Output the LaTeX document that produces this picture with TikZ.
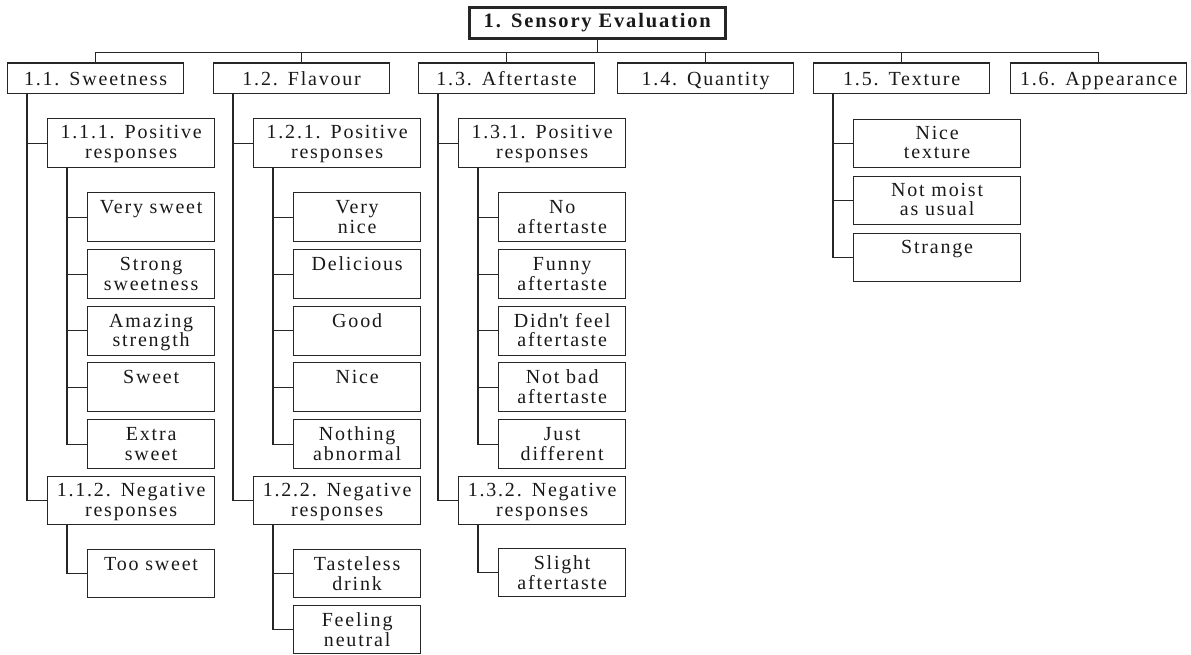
\documentclass[tikz,border=0pt]{standalone}
\usepackage{fontspec}
\setmainfont{Liberation Serif}[LetterSpace=9]
\begin{document}
\begin{tikzpicture}[x=1pt,y=-1pt,
  every node/.style={font=\fontsize{20}{19.5}\selectfont, text=black!90, align=center, inner xsep=0pt, inner ysep=0pt},
  frame/.style={draw=black!85, line width=1.3pt, anchor=north west},
  rootbox/.style={frame, line width=2.6pt, text width=256pt, text height=20pt, text depth=11pt, font=\fontsize{20.5}{19.5}\selectfont\bfseries},
  topic/.style={frame, text width=176pt, text height=22pt, text depth=8pt},
  group/.style={frame, text width=167pt, text height=20pt, text depth=#1},
  group/.default=29pt,
  leaf/.style={frame, text width=127pt, text height=21pt, text depth=#1},
  leaf/.default=28pt,
  conn/.style={draw=black!85, line width=1.3pt},
  ledge/.style={draw=black!85, line width=2.4pt}
]
\useasboundingbox (0,0) rectangle (1191,654);

% root
\node[rootbox] (root) at (468,6) {1. Sensory Evaluation};

% first level
\node[topic] (sw) at (7,63)    {1.1. Sweetness};
\node[topic] (fl) at (213,63)  {1.2. Flavour};
\node[topic] (af) at (418,63)  {1.3. Aftertaste};
\node[topic] (qu) at (617,63)  {1.4. Quantity};
\node[topic] (tx) at (813,63)  {1.5. Texture};
\node[topic] (ap) at (1010,63) {1.6. Appearance};

% 1.1 Sweetness
\node[group] (sw1) at (47,118) {1.1.1. Positive\\responses};
\node[leaf] (sw1a) at (87,192)   {Very sweet};
\node[leaf] (sw1b) at (87,249)   {Strong\\sweetness};
\node[leaf] (sw1c) at (87,305.5) {Amazing\\strength};
\node[leaf] (sw1d) at (87,362)   {Sweet};
\node[leaf] (sw1e) at (87,419)   {Extra\\sweet};
\node[group=28pt] (sw2) at (47,476) {1.1.2. Negative\\responses};
\node[leaf=27pt] (sw2a) at (87,549) {Too sweet};

% 1.2 Flavour
\node[group] (fl1) at (253,118) {1.2.1. Positive\\responses};
\node[leaf] (fl1a) at (293,192)   {Very\\nice};
\node[leaf] (fl1b) at (293,249)   {Delicious};
\node[leaf] (fl1c) at (293,305.5) {Good};
\node[leaf] (fl1d) at (293,362)   {Nice};
\node[leaf] (fl1e) at (293,419)   {Nothing\\abnormal};
\node[group=28pt] (fl2) at (253,476) {1.2.2. Negative\\responses};
\node[leaf=27pt] (fl2a) at (293,549) {Tasteless\\drink};
\node[leaf=27pt] (fl2b) at (293,605) {Feeling\\neutral};

% 1.3 Aftertaste
\node[group] (af1) at (458,118) {1.3.1. Positive\\responses};
\node[leaf] (af1a) at (498,192)   {No\\aftertaste};
\node[leaf] (af1b) at (498,249)   {Funny\\aftertaste};
\node[leaf] (af1c) at (498,305.5) {Didn\textquotesingle t feel\\aftertaste};
\node[leaf] (af1d) at (498,362)   {Not bad\\aftertaste};
\node[leaf] (af1e) at (498,419)   {Just\\different};
\node[group=28pt] (af2) at (458,476) {1.3.2. Negative\\responses};
\node[leaf=27pt] (af2a) at (498,548) {Slight\\aftertaste};

% 1.5 Texture
\node[group=28pt] (tx1) at (853,118.5) {Nice\\texture};
\node[group=28pt] (tx2) at (853,175.5) {Not moist\\as usual};
\node[group=28pt] (tx3) at (853,232.5) {Strange};

% heavier top edges of the first-level boxes
\foreach \n in {sw,fl,af,qu,tx,ap}
  \draw[ledge] (\n.north west) -- (\n.north east);

% root to first level
\foreach \n in {sw,fl,af,qu,tx,ap}
  \draw[conn] (root.south) -- ++(0,13) -| (\n.north);

% first level to groups
\foreach \p/\c in {sw/sw1,sw/sw2,fl/fl1,fl/fl2,af/af1,af/af2,tx/tx1,tx/tx2,tx/tx3}
  \draw[conn] ([xshift=20pt]\p.south west) |- (\c.west);

% groups to responses
\foreach \p/\c in {sw1/sw1a,sw1/sw1b,sw1/sw1c,sw1/sw1d,sw1/sw1e,sw2/sw2a,
                   fl1/fl1a,fl1/fl1b,fl1/fl1c,fl1/fl1d,fl1/fl1e,fl2/fl2a,fl2/fl2b,
                   af1/af1a,af1/af1b,af1/af1c,af1/af1d,af1/af1e,af2/af2a}
  \draw[conn] ([xshift=20pt]\p.south west) |- (\c.west);
\end{tikzpicture}
\end{document}
